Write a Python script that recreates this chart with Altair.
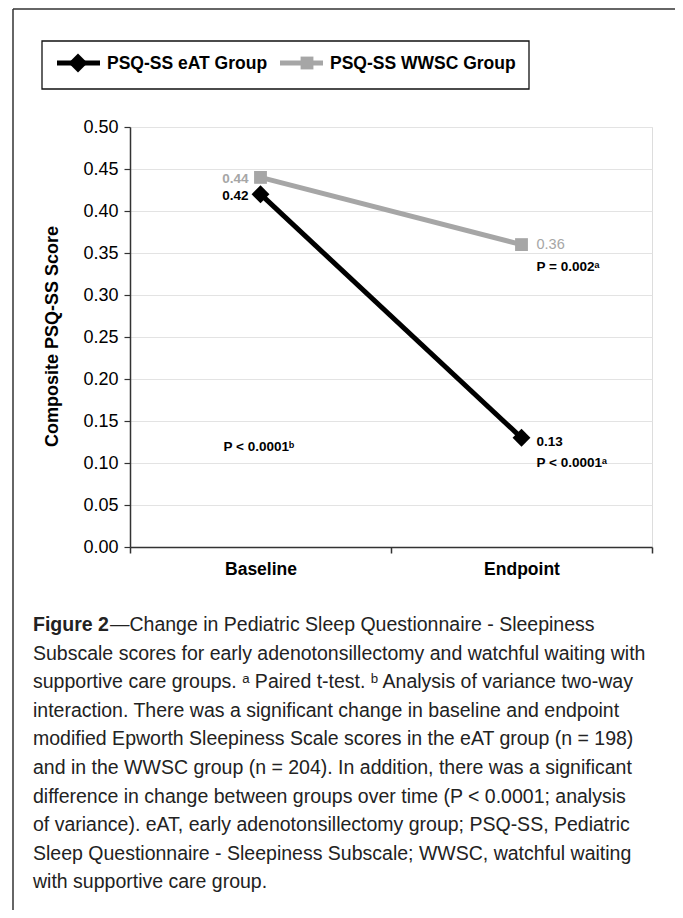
import altair as alt
import pandas as pd

# ---------------- data ----------------
categories = ["Baseline", "Endpoint"]
groups = ["PSQ-SS eAT Group", "PSQ-SS WWSC Group"]
eat_values = [0.42, 0.13]
wwsc_values = [0.44, 0.36]
y_ticks = [0.00, 0.05, 0.10, 0.15, 0.20, 0.25, 0.30, 0.35, 0.40, 0.45, 0.50]

annot_text = ["P < 0.0001\u1d47", "P = 0.002\u1d43", "P < 0.0001\u1d43"]
annot_cat = ["Baseline", "Endpoint", "Endpoint"]
annot_y = [0.119, 0.333, 0.100]

y_title = "Composite PSQ-SS Score"
caption_bold = "Figure 2"
caption_lines = [
    "\u2014Change in Pediatric Sleep Questionnaire - Sleepiness",
    "Subscale scores for early adenotonsillectomy and watchful waiting with",
    "supportive care groups. \u1d43 Paired t-test. \u1d47 Analysis of variance two-way",
    "interaction. There was a significant change in baseline and endpoint",
    "modified Epworth Sleepiness Scale scores in the eAT group (n = 198)",
    "and in the WWSC group (n = 204). In addition, there was a significant",
    "difference in change between groups over time (P < 0.0001; analysis",
    "of variance). eAT, early adenotonsillectomy group; PSQ-SS, Pediatric",
    "Sleep Questionnaire - Sleepiness Subscale; WWSC, watchful waiting",
    "with supportive care group.",
]

# ---------------- styles ----------------
BLACK = "#000000"
GRAY = "#a6a6a6"
FONT = "Liberation Sans, Arial, sans-serif"
W, H = 522, 420

rows = []
for g, vals in zip(groups, [eat_values, wwsc_values]):
    for c, v in zip(categories, vals):
        rows.append({"group": g, "time": c, "value": v})
df = pd.DataFrame(rows)

df_annot = pd.DataFrame({"text": annot_text, "time": annot_cat, "value": annot_y})
df_cap = pd.DataFrame({"line": caption_lines, "i": list(range(len(caption_lines)))})
dummy = pd.DataFrame({"a": [0]})

x_enc = alt.X(
    "time:N",
    scale=alt.Scale(type="band", domain=categories, paddingInner=0, paddingOuter=0),
    axis=alt.Axis(
        title=None, labelAngle=0, tickBand="extent", grid=False,
        labelFont=FONT, labelFontSize=17.5, labelFontWeight="bold", labelColor=BLACK,
        labelPadding=7, tickSize=6, tickColor="#333333", domainColor="#333333",
        domainWidth=1.5, tickWidth=1.5,
    ),
)
y_enc = alt.Y(
    "value:Q",
    scale=alt.Scale(domain=[0, 0.5], nice=False, zero=True),
    axis=alt.Axis(
        values=y_ticks, format=".2f", title=y_title,
        titleFont=FONT, titleFontSize=18, titleFontWeight="bold", titleColor=BLACK,
        titleAngle=270, titleX=-78, titleY=209, titleAlign="center", titleBaseline="middle",
        labelFont=FONT, labelFontSize=18, labelColor=BLACK, labelPadding=6,
        tickSize=6, tickColor="#333333", domainColor="#333333", domainWidth=1.5, tickWidth=1.2,
        grid=True, gridColor="#e3e3e3", gridWidth=1.2,
    ),
)

base = alt.Chart(df)

def series_layers(gname, color, shape, size):
    sub = base.transform_filter(alt.datum.group == gname)
    line = sub.mark_line(color=color, strokeWidth=5).encode(x=x_enc, y=y_enc)
    pts = sub.mark_point(filled=True, color=color, shape=shape, size=size, opacity=1).encode(
        x=x_enc, y=y_enc
    )
    return [line, pts]

layers = []
layers += series_layers(groups[1], GRAY, "square", 165)
layers += series_layers(groups[0], BLACK, "diamond", 320)

color_scale = alt.Scale(domain=groups, range=[BLACK, GRAY])

LAB = 13.5
lab_base = base.transform_filter(alt.datum.time == categories[0]).transform_calculate(
    lab="format(datum.value, '.2f')"
).mark_text(align="right", baseline="middle", dx=-12, dy=2, font=FONT, fontSize=LAB,
            fontWeight="bold").encode(
    x=x_enc, y=y_enc, text="lab:N", color=alt.Color("group:N", scale=color_scale, legend=None)
)
lab_end_e = base.transform_filter(
    (alt.datum.time == categories[1]) & (alt.datum.group == groups[0])
).transform_calculate(lab="format(datum.value, '.2f')").mark_text(
    align="left", baseline="middle", dx=15, dy=4, font=FONT, fontSize=LAB,
    fontWeight="bold", color=BLACK
).encode(x=x_enc, y=y_enc, text="lab:N")
lab_end_w = base.transform_filter(
    (alt.datum.time == categories[1]) & (alt.datum.group == groups[1])
).transform_calculate(lab="format(datum.value, '.2f')").mark_text(
    align="left", baseline="middle", dx=15, dy=0, font=FONT, fontSize=14.5,
    fontWeight="normal", color=GRAY
).encode(x=x_enc, y=y_enc, text="lab:N")
layers += [lab_base, lab_end_e, lab_end_w]

ann = alt.Chart(df_annot)
ann_b = ann.transform_filter(alt.datum.time == categories[0]).mark_text(
    align="left", baseline="middle", dx=-37, font=FONT, fontSize=LAB, fontWeight="bold", color=BLACK
).encode(x=x_enc, y=y_enc, text="text:N")
ann_e = ann.transform_filter(alt.datum.time == categories[1]).mark_text(
    align="left", baseline="middle", dx=15, font=FONT, fontSize=LAB, fontWeight="bold", color=BLACK
).encode(x=x_enc, y=y_enc, text="text:N")
layers += [ann_b, ann_e]

# ---------------- frame ----------------
d = alt.Chart(dummy)
frame_top = d.mark_rule(color="#333333", strokeWidth=1.5).encode(
    x=alt.value(-117), x2=alt.value(545), y=alt.value(-118))
frame_left = d.mark_rule(color="#333333", strokeWidth=1.5).encode(
    x=alt.value(-117), y=alt.value(-118), y2=alt.value(783))
layers += [frame_top, frame_left]

# ---------------- legend ----------------
LEG = 17.5
leg_box = d.mark_rect(fillOpacity=0, stroke="#111111", strokeWidth=1.3).encode(
    x=alt.value(-88), x2=alt.value(399), y=alt.value(-86), y2=alt.value(-38))
leg_l1 = d.mark_rule(color=BLACK, strokeWidth=5).encode(
    x=alt.value(-73), x2=alt.value(-30), y=alt.value(-64))
leg_p1 = d.mark_point(shape="diamond", filled=True, color=BLACK, size=360, opacity=1).encode(
    x=alt.value(-52), y=alt.value(-64))
leg_t1 = d.mark_text(align="left", baseline="middle", font=FONT, fontSize=LEG,
                     fontWeight="bold", color=BLACK, text=groups[0]).encode(
    x=alt.value(-23), y=alt.value(-63))
leg_l2 = d.mark_rule(color=GRAY, strokeWidth=5).encode(
    x=alt.value(150), x2=alt.value(193), y=alt.value(-64))
leg_p2 = d.mark_point(shape="square", filled=True, color=GRAY, size=165, opacity=1).encode(
    x=alt.value(177), y=alt.value(-64))
leg_t2 = d.mark_text(align="left", baseline="middle", font=FONT, fontSize=LEG,
                     fontWeight="bold", color=BLACK, text=groups[1]).encode(
    x=alt.value(200), y=alt.value(-63))
layers += [leg_box, leg_l1, leg_p1, leg_t1, leg_l2, leg_p2, leg_t2]

# ---------------- caption ----------------
CAP = 19.5
cap = alt.Chart(df_cap).transform_calculate(py="498 + datum.i * 28.6")
cap_bold = d.mark_text(align="left", baseline="middle", font=FONT, fontSize=CAP,
                       fontWeight="bold", color="#222222", text=caption_bold).encode(
    x=alt.value(-97), y=alt.value(498))
cap_first = cap.transform_filter(alt.datum.i == 0).mark_text(
    align="left", baseline="middle", font=FONT, fontSize=CAP, color="#222222"
).encode(x=alt.value(-20), y=alt.Y("py:Q", scale=None), text="line:N")
cap_rest = cap.transform_filter(alt.datum.i > 0).mark_text(
    align="left", baseline="middle", font=FONT, fontSize=CAP, color="#222222"
).encode(x=alt.value(-97), y=alt.Y("py:Q", scale=None), text="line:N")
layers += [cap_bold, cap_first, cap_rest]

chart = alt.layer(*layers).properties(
    width=W, height=H,
    autosize=alt.AutoSizeParams(type="none"),
    padding={"left": 122, "top": 119, "right": 23, "bottom": 363},
).configure_view(stroke=None).configure(background="white")

chart.save("out.html", embed_options={"renderer": "svg", "actions": False})
